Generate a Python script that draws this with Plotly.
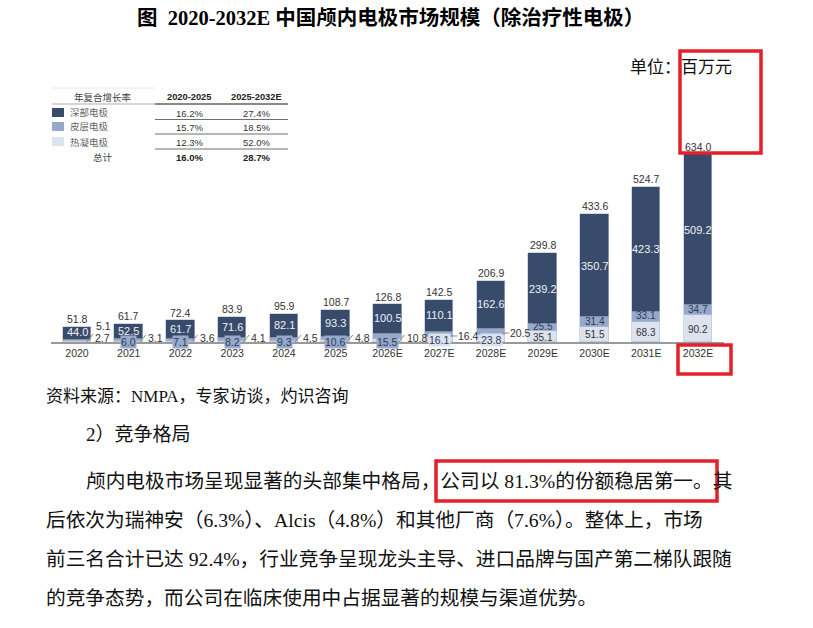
import plotly.graph_objects as go

W, H = 813, 628

# ---------------- data ----------------
years = ["2020", "2021", "2022", "2023", "2024", "2025", "2026E",
         "2027E", "2028E", "2029E", "2030E", "2031E", "2032E"]
deep = [44.0, 52.5, 61.7, 71.6, 82.1, 93.3, 100.5, 110.1, 162.6, 239.2, 350.7, 423.3, 509.2]
cortical = [5.1, 6.0, 7.1, 8.2, 9.3, 10.6, 15.5, 16.4, 20.5, 25.5, 31.4, 33.1, 34.7]
thermo = [2.7, 3.1, 3.6, 4.1, 4.5, 4.8, 10.8, 16.1, 23.8, 35.1, 51.5, 68.3, 90.2]
totals = [51.8, 61.7, 72.4, 83.9, 95.9, 108.7, 126.8, 142.5, 206.9, 299.8, 433.6, 524.7, 634.0]

cagr_series = ["深部电极", "皮层电极", "热凝电极"]
cagr_2020_2025 = ["16.2%", "15.7%", "12.3%"]
cagr_2025_2032 = ["27.4%", "18.5%", "52.0%"]
cagr_total = ["16.0%", "28.7%"]
cagr_header = ["年复合增长率", "2020-2025", "2025-2032E"]

title = "图  2020-2032E 中国颅内电极市场规模（除治疗性电极）"
unit_text = "单位：百万元"
source_text = "资料来源：NMPA，专家访谈，灼识咨询"
heading_text = "2）竞争格局"
para_lines = [
    "颅内电极市场呈现显著的头部集中格局，公司以 81.3%的份额稳居第一。其",
    "后依次为瑞神安（6.3%）、Alcis（4.8%）和其他厂商（7.6%）。整体上，市场",
    "前三名合计已达 92.4%，行业竞争呈现龙头主导、进口品牌与国产第二梯队跟随",
    "的竞争态势，而公司在临床使用中占据显著的规模与渠道优势。",
]

# ---------------- style ----------------
DARK = "#394B6B"
MED = "#97A9CA"
LIGHT = "#DCE2EE"
RED = "#E5202B"
SANS = "Liberation Sans, Arial, sans-serif"
CJK = "Noto Sans CJK SC"
SERIF_CJK = "Liberation Serif, Noto Sans CJK SC"


def ax(p):
    return p / W


def ay(p):
    return 1 - p / H


ann = []
shapes = []


def page_text(x, y, text, font, xanchor="center", yanchor="middle"):
    ann.append(dict(x=ax(x), y=ay(y), xref="paper", yref="paper", text=text, showarrow=False,
                    xanchor=xanchor, yanchor=yanchor, font=font))


n = len(years)
xs = list(range(n))
BAR_W = 0.55

fig = go.Figure()
for vals, col in [(thermo, LIGHT), (cortical, MED), (deep, DARK)]:
    fig.add_trace(go.Bar(
        x=xs, y=vals, width=BAR_W, marker=dict(color=col, line=dict(color="#B4C0D4", width=0.6)),
        hoverinfo="skip", showlegend=False))

LBL = 10.5
for i in range(n):
    ann.append(dict(x=i, y=totals[i], xref="x", yref="y", text=f"{totals[i]:.1f}", showarrow=False,
                    xanchor="center", yanchor="bottom", yshift=0,
                    font=dict(family=SANS, size=LBL, color="#333")))
    ann.append(dict(x=i, y=thermo[i] + cortical[i] + deep[i] / 2, xref="x", yref="y",
                    text=f"{deep[i]:.1f}", showarrow=False, xanchor="center", yanchor="middle",
                    yshift=1 if i < 9 else 0,
                    font=dict(family=SANS, size=LBL + 0.5, color="#EEF1F6")))
    if i >= 9:
        ann.append(dict(x=i, y=thermo[i] + cortical[i] / 2, xref="x", yref="y",
                        text=f"{cortical[i]:.1f}", showarrow=False, xanchor="center", yanchor="middle",
                        yshift=1, font=dict(family=SANS, size=10, color="#2C3A55")))
        ann.append(dict(x=i, y=thermo[i] / 2, xref="x", yref="y",
                        text=f"{thermo[i]:.1f}", showarrow=False, xanchor="center", yanchor="middle",
                        yshift=-0.5, font=dict(family=SANS, size=10, color="#333")))

# small segments: boxed label at bar foot + outside label with leader
for i in range(1, 9):
    if i <= 6:
        box_val, box_col, out_val, yshift_box = cortical[i], MED, thermo[i], 0
    else:
        box_val, box_col, out_val, yshift_box = thermo[i], LIGHT, cortical[i], 2
    ann.append(dict(x=i, y=0, xref="x", yref="y", text=f"{box_val:.1f}", showarrow=False,
                    xanchor="center", yanchor="middle", yshift=yshift_box, bgcolor=box_col, borderpad=0,
                    font=dict(family=SANS, size=LBL, color="#2C3A55")))
    out_shift = {7: 6, 8: 9}.get(i, 4.5)
    ann.append(dict(x=i, y=0, xref="x", yref="y", text=f"{out_val:.1f}", showarrow=False,
                    xanchor="left", yanchor="middle", xshift=17, yshift=out_shift,
                    font=dict(family=SANS, size=LBL, color="#333")))
    if i <= 6:
        shapes.append(dict(type="line", xref="x", yref="y", xsizemode="pixel", ysizemode="pixel",
                           xanchor=i, yanchor=0, x0=11, y0=0, x1=17, y1=7,
                           line=dict(color="#888", width=1)))
    else:
        shapes.append(dict(type="line", xref="x", yref="y", xsizemode="pixel", ysizemode="pixel",
                           xanchor=i, yanchor=0, x0=12, y0=out_shift, x1=18, y1=out_shift,
                           line=dict(color="#888", width=1)))

# 2020: both small values outside
ann.append(dict(x=0, y=0, xref="x", yref="y", text=f"{cortical[0]:.1f}", showarrow=False,
                xanchor="left", yanchor="middle", xshift=17, yshift=16,
                font=dict(family=SANS, size=LBL, color="#333")))
ann.append(dict(x=0, y=0, xref="x", yref="y", text=f"{thermo[0]:.1f}", showarrow=False,
                xanchor="left", yanchor="middle", xshift=16, yshift=4,
                font=dict(family=SANS, size=LBL, color="#333")))
shapes.append(dict(type="line", xref="x", yref="y", xsizemode="pixel", ysizemode="pixel",
                   xanchor=0, yanchor=0, x0=10, y0=0, x1=16, y1=8, line=dict(color="#888", width=1)))

# ---------------- CAGR table ----------------
tx_c1, tx_c2, tx_end = 189, 256, 288
row_y = [113, 127, 142]
page_text(103, 97, cagr_header[0], dict(family=CJK, size=9.5, color="#444"))
for cx, txt in [(tx_c1, cagr_header[1]), (tx_c2, cagr_header[2])]:
    page_text(cx, 97, f"<b>{txt}</b>", dict(family=SANS, size=9.3, color="#222"))
for k, (name, col) in enumerate(zip(cagr_series, [DARK, MED, LIGHT])):
    yy = row_y[k]
    shapes.append(dict(type="rect", xref="paper", yref="paper", x0=ax(52), x1=ax(64),
                       y0=ay(yy - 5), y1=ay(yy + 4), fillcolor=col, line=dict(width=0)))
    page_text(68, yy - 0.5, name, dict(family=CJK, size=9.5, color="#666"), xanchor="left")
    page_text(tx_c1, yy, cagr_2020_2025[k], dict(family=SANS, size=9.5, color="#333"))
    page_text(tx_c2, yy, cagr_2025_2032[k], dict(family=SANS, size=9.5, color="#333"))
page_text(103, 157, "总计", dict(family=CJK, size=9.5, color="#444"))
for cx, txt in [(tx_c1, cagr_total[0]), (tx_c2, cagr_total[1])]:
    page_text(cx, 157, f"<b>{txt}</b>", dict(family=SANS, size=9.5, color="#222"))
shapes.append(dict(type="line", xref="paper", yref="paper", x0=ax(52), x1=ax(155), y0=ay(88), y1=ay(88),
                   line=dict(color="#E6E6E6", width=1)))
shapes.append(dict(type="line", xref="paper", yref="paper", x0=ax(52), x1=ax(155), y0=ay(104), y1=ay(104),
                   line=dict(color="#C8C8C8", width=1.5)))
shapes.append(dict(type="line", xref="paper", yref="paper", x0=ax(155), x1=ax(tx_end), y0=ay(104), y1=ay(104),
                   line=dict(color="#8A8A8A", width=2)))
for yy in [119.5, 134, 149]:
    shapes.append(dict(type="line", xref="paper", yref="paper", x0=ax(155), x1=ax(tx_end), y0=ay(yy), y1=ay(yy),
                       line=dict(color="#6E6E6E", width=1)))

# ---------------- page texts ----------------
page_text(390, 18, f"<b>{title}</b>", dict(family=SERIF_CJK, size=20.5, color="#000"))
page_text(628, 67, unit_text, dict(family=SERIF_CJK, size=17, color="#111"), xanchor="left")
page_text(44, 396, source_text, dict(family=SERIF_CJK, size=17, color="#111"), xanchor="left")
page_text(84, 434, heading_text, dict(family=SERIF_CJK, size=19, color="#111"), xanchor="left")
for k, (line, ly) in enumerate(zip(para_lines, [481, 520, 559, 598])):
    page_text(84 if k == 0 else 44, ly, line, dict(family=SERIF_CJK, size=19.7, color="#111"), xanchor="left")

# red highlight boxes
for (x0, y0, x1, y1) in [(680, 51, 761, 153), (678, 345, 731, 374), (436, 461, 717, 501)]:
    shapes.append(dict(type="rect", xref="paper", yref="paper", x0=ax(x0), x1=ax(x1), y0=ay(y0), y1=ay(y1),
                       line=dict(color=RED, width=3.5), fillcolor="rgba(0,0,0,0)"))

# ---------------- axes / layout ----------------
Y_TOP = 700
base_px = 342
px_per_unit = 0.2955
top_px = base_px - Y_TOP * px_per_unit
x_left = 77 - 51.75 / 2
x_right = x_left + 13 * 51.75

fig.update_layout(
    width=W, height=H, margin=dict(l=0, r=0, t=0, b=0),
    paper_bgcolor="white", plot_bgcolor="white",
    barmode="stack", bargap=0,
    annotations=ann, shapes=shapes, showlegend=False,
    xaxis=dict(domain=[ax(x_left), ax(x_right)], range=[-0.5, n - 0.5],
               tickmode="array", tickvals=xs, ticktext=years, ticks="",
               showgrid=False, zeroline=False, showline=True, linecolor="#9A9A9A", linewidth=2,
               tickfont=dict(family=SANS, size=10.5, color="#333"), fixedrange=True),
    yaxis=dict(domain=[ay(base_px), ay(top_px)], range=[0, Y_TOP], visible=False, fixedrange=True),
)

fig.write_html("out.html")
